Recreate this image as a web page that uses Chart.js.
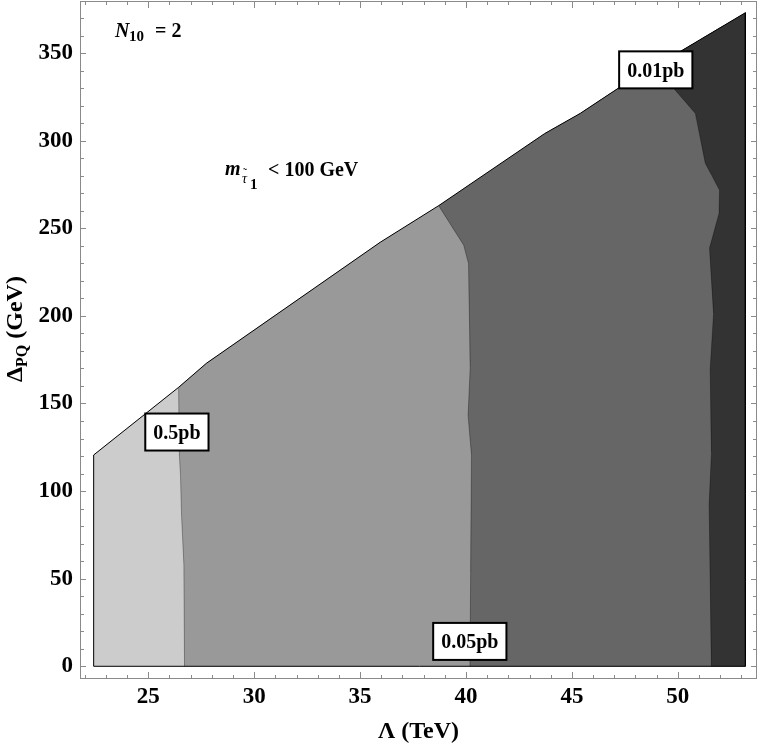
<!DOCTYPE html>
<html>
<head>
<meta charset="utf-8">
<script src="https://cdn.jsdelivr.net/npm/chart.js@4.4.1/dist/chart.umd.min.js"></script>
<style>
  html, body { margin: 0; padding: 0; background: #fff; }
  #wrap { width: 761px; height: 744px; }
</style>
</head>
<body>
<div id="wrap"><canvas id="c"></canvas></div>
<script>
// upper edge of the allowed region (above it m_stau < 100 GeV), left to right
const edgeX = [22.42, 26.43, 27.74, 35.95, 38.71, 43.71, 45.40, 47.20, 50.20, 53.19];
const edgeY = [120.6, 159.2, 172.9, 242.0, 262.9, 304.0, 315.6, 330.0, 351.5, 373.0];

// cross-section contours, read from top to bottom
const c05X = [26.43, 26.47, 26.52, 26.57, 26.68, 26.71];
const c05Y = [159.2, 120.0, 109.0, 86.0, 58.0, 0];
const c005X = [38.71, 39.89, 40.12, 40.20, 40.10, 40.26, 40.22, 40.19];
const c005Y = [262.9, 240.4, 229.9, 170.9, 143.0, 120.6, 53.8, 0];
const c001X = [48.91, 49.80, 50.83, 51.30, 51.97, 51.95, 51.50, 51.69, 51.53, 51.59, 51.48, 51.59];
const c001Y = [342.3, 329.9, 315.6, 287.1, 271.9, 258.6, 238.6, 201.5, 169.2, 122.0, 92.0, 0];

// contour labels (sitting on the lines)
const labelText = ['0.5pb', '0.05pb', '0.01pb'];
const labelX = [26.35, 40.18, 48.96];
const labelY = [133.7, 14.2, 340.4];

const xTicks = [25, 30, 35, 40, 45, 50];
const yTicks = [0, 50, 100, 150, 200, 250, 300, 350];

const SERIF = '"Liberation Serif", "Times New Roman", serif';

const pts = (xs, ys) => xs.map((x, i) => ({ x, y: ys[i] }));
const xEnd = edgeX[edgeX.length - 1];
const edge = pts(edgeX, edgeY);
const outline = [{ x: edgeX[0], y: 0 }, ...edge, { x: xEnd, y: 0 }, { x: edgeX[0], y: 0 }];

// polygon to the right of a contour, closed along the upper edge
function rightOf(cx, cy) {
  const top = edge.filter(p => p.x > cx[0]).reverse();
  return [...pts(cx, cy), { x: xEnd, y: 0 }, ...top];
}

// tiny tension keeps chart.js off its min/max "fast path", lines stay straight
const region = (data, color, order) => ({
  data, order, fill: 'shape', backgroundColor: color, tension: 0.0001,
  borderColor: 'rgba(0,0,0,0)', borderWidth: 0, pointRadius: 0
});
const contour = (data, order) => ({
  data, order, fill: false, tension: 0.0001,
  borderColor: 'rgba(0,0,0,0.3)', borderWidth: 1, pointRadius: 0
});

// inward ticks on all four sides + grey frame
const frameTicks = {
  id: 'frameTicks',
  afterDraw(chart) {
    const { ctx, chartArea: a, scales: { x, y } } = chart;
    ctx.save();
    ctx.strokeStyle = '#8a8a8a';
    ctx.lineWidth = 1;
    ctx.strokeRect(a.left + 0.5, a.top + 0.5, a.right - a.left - 1, a.bottom - a.top - 1);
    ctx.beginPath();
    for (let v = 22; v <= 53; v++) {
      const px = Math.round(x.getPixelForValue(v)) + 0.5;
      const len = v % 5 === 0 ? 7 : 4;
      ctx.moveTo(px, a.bottom); ctx.lineTo(px, a.bottom - len);
      ctx.moveTo(px, a.top); ctx.lineTo(px, a.top + len);
    }
    for (let v = 0; v <= 370; v += 10) {
      const py = Math.round(y.getPixelForValue(v)) + 0.5;
      const len = v % 50 === 0 ? 6 : 4;
      ctx.moveTo(a.left, py); ctx.lineTo(a.left + len, py);
      ctx.moveTo(a.right, py); ctx.lineTo(a.right - len, py);
    }
    ctx.stroke();
    ctx.restore();
  }
};

// text: axis titles, annotations, contour labels
const textLayer = {
  id: 'textLayer',
  afterDraw(chart) {
    const { ctx, chartArea: a, scales: { x, y } } = chart;
    ctx.save();
    ctx.fillStyle = '#000';
    ctx.textBaseline = 'alphabetic';

    // contour labels in boxes
    ctx.font = 'bold 20px ' + SERIF;
    labelText.forEach((t, i) => {
      const cx = x.getPixelForValue(labelX[i]);
      const cy = y.getPixelForValue(labelY[i]);
      const w = ctx.measureText(t).width + 16;
      const h = 37;
      ctx.fillStyle = '#fff';
      ctx.fillRect(cx - w / 2, cy - h / 2, w, h);
      ctx.strokeStyle = '#000';
      ctx.lineWidth = 2;
      ctx.strokeRect(cx - w / 2, cy - h / 2, w, h);
      ctx.fillStyle = '#000';
      ctx.textAlign = 'center';
      ctx.fillText(t, cx, cy + 7);
    });
    ctx.textAlign = 'left';

    // x title
    ctx.font = 'bold 24px ' + SERIF;
    ctx.textAlign = 'center';
    ctx.fillText('Λ (TeV)', (a.left + a.right) / 2, 738);
    ctx.textAlign = 'left';

    // y title, rotated, with subscript
    ctx.save();
    ctx.translate(22, 382);
    ctx.rotate(-Math.PI / 2);
    ctx.font = 'bold 24px ' + SERIF;
    ctx.fillText('Δ', 0, 0);
    let off = ctx.measureText('Δ').width;
    ctx.font = 'bold 16px ' + SERIF;
    ctx.fillText('PQ', off, 5);
    off += ctx.measureText('PQ').width;
    ctx.font = 'bold 24px ' + SERIF;
    ctx.fillText(' (GeV)', off, 0);
    ctx.restore();

    // N10 = 2
    ctx.font = 'italic bold 20px ' + SERIF;
    ctx.fillText('N', 115, 37);
    ctx.font = 'bold 15px ' + SERIF;
    ctx.fillText('10', 129, 41);
    ctx.font = 'bold 20px ' + SERIF;
    ctx.fillText('= 2', 155, 37);

    // m_stau1 < 100 GeV
    ctx.font = 'italic bold 20px ' + SERIF;
    ctx.fillText('m', 225, 175);
    ctx.font = 'italic 14px ' + SERIF;
    ctx.fillText('τ', 242, 183);
    ctx.font = '12px ' + SERIF;
    ctx.fillText('˜', 243, 177);
    ctx.font = 'bold 15px ' + SERIF;
    ctx.fillText('1', 250, 189);
    ctx.font = 'bold 20px ' + SERIF;
    ctx.fillText('< 100 GeV', 268, 176);

    ctx.restore();
  }
};

new Chart(document.getElementById('c'), {
  type: 'line',
  data: {
    datasets: [
      region(outline, '#cccccc', 10),
      region(rightOf(c05X, c05Y), '#999999', 9),
      region(rightOf(c005X, c005Y), '#666666', 8),
      region(rightOf(c001X, c001Y), '#333333', 7),
      contour(pts(c05X, c05Y), 4),
      contour(pts(c005X, c005Y), 4),
      contour(pts(c001X, c001Y), 4),
      { data: outline, order: 1, fill: false, borderColor: '#000', borderWidth: 1, pointRadius: 0 }
    ]
  },
  options: {
    responsive: true,
    maintainAspectRatio: false,
    animation: false,
    layout: { padding: { top: 1, right: 4, left: 0, bottom: 0 } },
    plugins: { legend: { display: false }, tooltip: { enabled: false } },
    elements: { line: { tension: 0 } },
    scales: {
      x: {
        type: 'linear', min: 21.775, max: 53.74,
        afterFit: s => { s.height = 65; s.paddingLeft = 0; s.paddingRight = 0; },
        afterBuildTicks: s => { s.ticks = xTicks.map(v => ({ value: v })); },
        grid: { display: false, drawTicks: false },
        border: { display: false },
        ticks: { padding: 4, color: '#000', font: { family: SERIF, size: 23, weight: 'bold' } }
      },
      y: {
        type: 'linear', min: -7.25, max: 379.7,
        afterFit: s => { s.width = 80; s.paddingTop = 0; s.paddingBottom = 0; },
        afterBuildTicks: s => { s.ticks = yTicks.map(v => ({ value: v })); },
        grid: { display: false, drawTicks: false },
        border: { display: false },
        ticks: { padding: 7, color: '#000', font: { family: SERIF, size: 23, weight: 'bold' } }
      }
    }
  },
  plugins: [frameTicks, textLayer]
});
</script>
</body>
</html>
